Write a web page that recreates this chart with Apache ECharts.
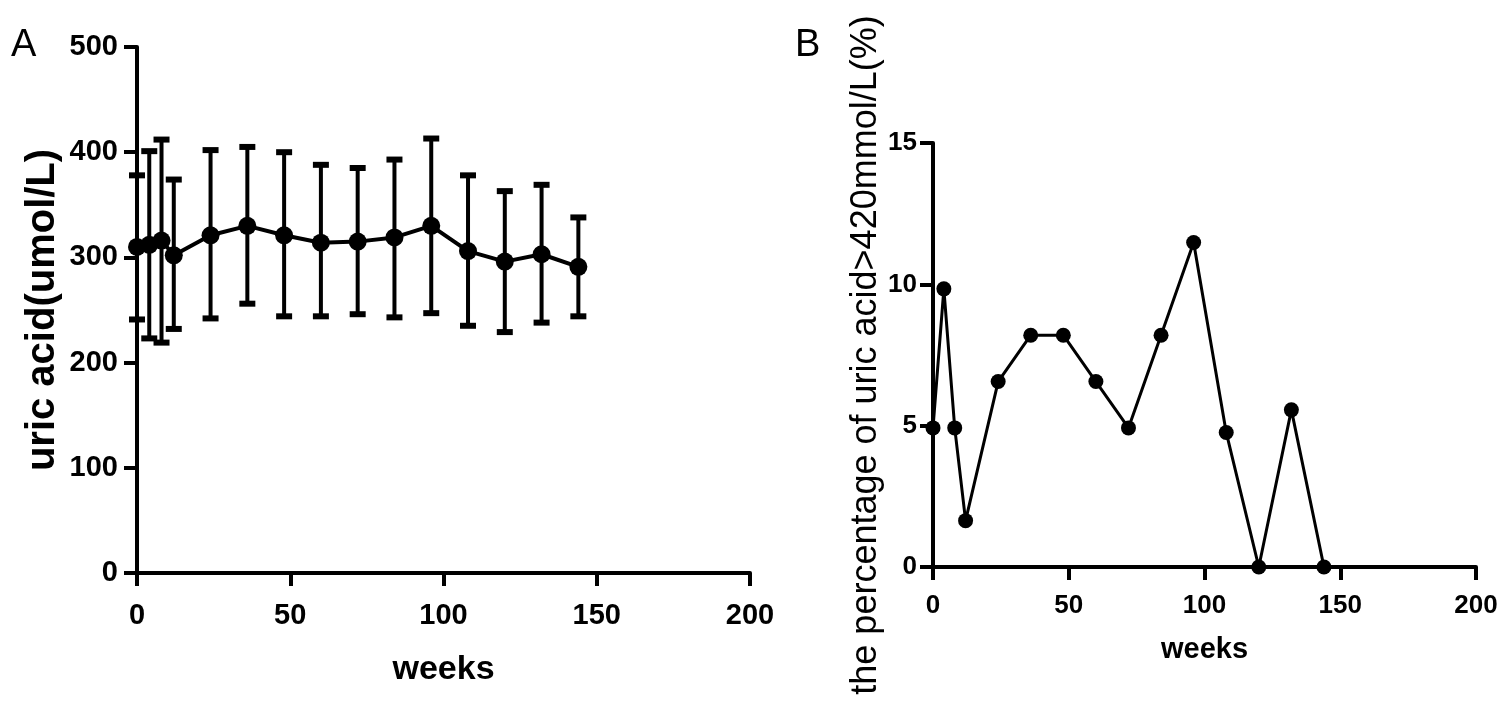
<!DOCTYPE html>
<html>
<head>
<meta charset="utf-8">
<script src="https://cdn.jsdelivr.net/npm/echarts@6/dist/echarts.min.js"></script>
<style>
html,body{margin:0;padding:0;background:#fff;}
#c{width:1502px;height:709px;}
</style>
</head>
<body>
<div id="c"></div>
<script>
// Panel A: uric acid mean with error bars
const weeksA = [0, 4, 8, 12, 24, 36, 48, 60, 72, 84, 96, 108, 120, 132, 144];
const meanA  = [310, 312, 316, 302, 321, 330, 321, 314, 315, 319, 330, 306, 296, 303, 291];
const upperA = [378, 401, 412, 374, 402, 405, 400, 388, 385, 393, 413, 378, 363, 369, 338];
const lowerA = [241, 223, 219, 232, 242, 256, 244, 244, 246, 243, 247, 235, 229, 238, 244];
// Panel B: percentage of uric acid > 420
const weeksB = [0, 4, 8, 12, 24, 36, 48, 60, 72, 84, 96, 108, 120, 132, 144];
const pctB   = [4.92, 9.84, 4.92, 1.64, 6.56, 8.20, 8.20, 6.56, 4.92, 8.20, 11.48, 4.76, 0, 5.56, 0];

const sans = "'Liberation Sans', Arial, sans-serif";

const chart = echarts.init(document.getElementById('c'), null, {renderer: 'canvas'});

const axLine = {show: true, onZero: false, lineStyle: {color: '#000', width: 4}};
const axTick = {show: true, inside: false, length: 13, lineStyle: {color: '#000', width: 4}};

function errRender(params, api) {
  const x = api.value(0), lo = api.value(1), hi = api.value(2);
  const pL = api.coord([x, lo]), pH = api.coord([x, hi]);
  const w = 8, h = 6;
  return {
    type: 'group',
    children: [
      {type: 'line', shape: {x1: pL[0], y1: pL[1], x2: pH[0], y2: pH[1]}, style: {stroke: '#000', lineWidth: 4}},
      {type: 'rect', shape: {x: pH[0] - w, y: pH[1] - h / 2, width: 2 * w, height: h}, style: {fill: '#000'}},
      {type: 'rect', shape: {x: pL[0] - w, y: pL[1] - h / 2, width: 2 * w, height: h}, style: {fill: '#000'}}
    ]
  };
}

const option = {
  backgroundColor: '#fff',
  animation: false,
  title: [
    {text: 'A', left: 6, top: 22, textStyle: {fontFamily: sans, fontWeight: 'normal', fontSize: 38, color: '#000'}},
    {text: 'B', left: 790, top: 22, textStyle: {fontFamily: sans, fontWeight: 'normal', fontSize: 38, color: '#000'}}
  ],
  grid: [
    {left: 137, top: 47, width: 613, height: 526},
    {left: 933, top: 143, width: 543, height: 424}
  ],
  xAxis: [
    {
      gridIndex: 0, type: 'value', min: 0, max: 200, interval: 50,
      axisLine: axLine, axisTick: axTick, splitLine: {show: false},
      axisLabel: {margin: 28, color: '#000', fontFamily: sans, fontWeight: 'bold', fontSize: 29},
      name: 'weeks', nameLocation: 'middle', nameGap: 80,
      nameTextStyle: {color: '#000', fontFamily: sans, fontWeight: 'bold', fontSize: 34}
    },
    {
      gridIndex: 1, type: 'value', min: 0, max: 200, interval: 50,
      axisLine: axLine, axisTick: axTick, splitLine: {show: false},
      axisLabel: {margin: 26, color: '#000', fontFamily: sans, fontWeight: 'bold', fontSize: 26},
      name: 'weeks', nameLocation: 'middle', nameGap: 68,
      nameTextStyle: {color: '#000', fontFamily: sans, fontWeight: 'bold', fontSize: 29}
    }
  ],
  yAxis: [
    {
      gridIndex: 0, type: 'value', min: 0, max: 500, interval: 100,
      axisLine: axLine, axisTick: axTick, splitLine: {show: false},
      axisLabel: {margin: 19, color: '#000', fontFamily: sans, fontWeight: 'bold', fontSize: 29},
      name: 'uric acid(umol/L)', nameLocation: 'middle', nameGap: 74,
      nameTextStyle: {color: '#000', fontFamily: sans, fontWeight: 'bold', fontSize: 40}
    },
    {
      gridIndex: 1, type: 'value', min: 0, max: 15, interval: 5,
      axisLine: axLine, axisTick: axTick, splitLine: {show: false},
      axisLabel: {margin: 16, color: '#000', fontFamily: sans, fontWeight: 'bold', fontSize: 26},
      name: 'the percentage of uric acid>420mmol/L(%)', nameLocation: 'middle', nameGap: 48,
      nameTextStyle: {color: '#000', fontFamily: sans, fontWeight: 'normal', fontSize: 36}
    }
  ],
  series: [
    {
      type: 'custom', xAxisIndex: 0, yAxisIndex: 0,
      renderItem: errRender,
      encode: {x: 0, y: [1, 2]},
      data: weeksA.map((w, i) => [w, lowerA[i], upperA[i]]),
      z: 2
    },
    {
      type: 'line', xAxisIndex: 0, yAxisIndex: 0,
      data: weeksA.map((w, i) => [w, meanA[i]]),
      symbol: 'circle', symbolSize: 18,
      lineStyle: {color: '#000', width: 4},
      itemStyle: {color: '#000'},
      z: 3
    },
    {
      type: 'line', xAxisIndex: 1, yAxisIndex: 1,
      data: weeksB.map((w, i) => [w, pctB[i]]),
      symbol: 'circle', symbolSize: 15,
      lineStyle: {color: '#000', width: 3},
      itemStyle: {color: '#000'},
      clip: false,
      z: 3
    }
  ]
};
chart.setOption(option);
</script>
</body>
</html>
